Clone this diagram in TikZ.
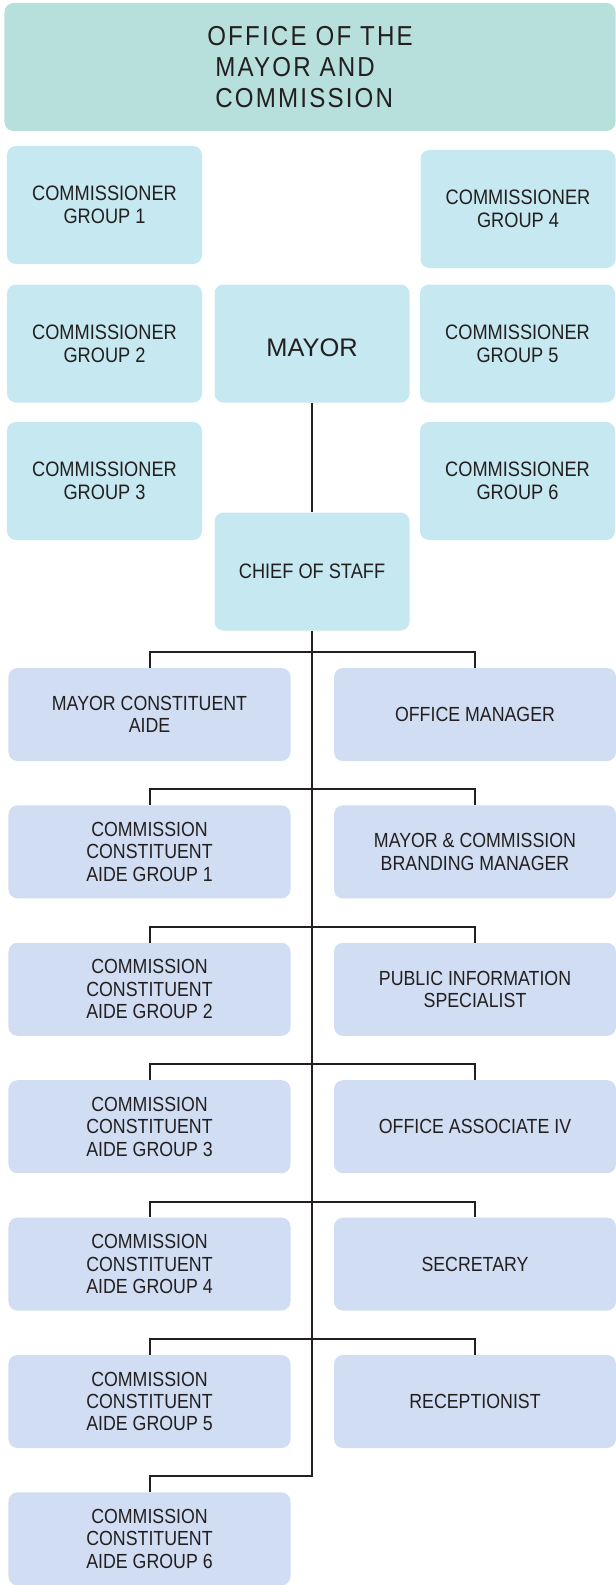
\documentclass[tikz,border=0pt]{standalone}
\usepackage{fontspec}
\setmainfont{Liberation Sans}
\newfontfamily\narrowfont[FakeStretch=0.87]{Liberation Sans}
\newfontfamily\spacedfont[FakeStretch=0.88, LetterSpace=8]{Liberation Sans}
\definecolor{ink}{HTML}{231F20}
\definecolor{titlefill}{HTML}{B7E0DC}
\definecolor{commfill}{HTML}{C6E8F0}
\definecolor{stafffill}{HTML}{D0DDF2}

\begin{document}
\begin{tikzpicture}[x = 1bp, y = -1bp]
	\tikzstyle{boxStyle} = [rectangle, rounded corners = 9bp, inner sep = 2bp, text = ink, align = center]
	\tikzstyle{titleStyle} = [boxStyle, fill = titlefill, minimum width = 611bp, minimum height = 128bp, align = left, font = \spacedfont\fontsize{27.5}{31}\selectfont]
	\tikzstyle{commStyle} = [boxStyle, fill = commfill, minimum width = 195bp, minimum height = 118bp, font = \narrowfont\fontsize{21}{23}\selectfont]
	\tikzstyle{mayorStyle} = [commStyle, text height = 26bp, font = \fontsize{25.5}{27}\selectfont]
	\tikzstyle{staffStyle} = [boxStyle, fill = stafffill, minimum width = 282bp, minimum height = 93bp, font = \narrowfont\fontsize{20.5}{22.5}\selectfont]
	\tikzstyle{lineStyle} = [line width = 2bp, draw = ink]
	\useasboundingbox (0,0) rectangle (616,1585);
	% top block
	\node[titleStyle] (office) at (310,67) {OFFICE OF THE\\\hspace*{8bp}MAYOR AND\\\hspace*{8bp}COMMISSION};
	\node[commStyle] (c1) at (104.5,205) {COMMISSIONER\\GROUP 1};
	\node[commStyle] (c2) at (104.5,343.5) {COMMISSIONER\\GROUP 2};
	\node[commStyle] (c3) at (104.5,481) {COMMISSIONER\\GROUP 3};
	\node[commStyle] (c4) at (518,209) {COMMISSIONER\\GROUP 4};
	\node[commStyle] (c5) at (517.5,343.5) {COMMISSIONER\\GROUP 5};
	\node[commStyle] (c6) at (517.5,481) {COMMISSIONER\\GROUP 6};
	\node[mayorStyle] (mayor) at (312,343.5) {MAYOR};
	\node[commStyle] (chief) at (312,571.5) {CHIEF OF STAFF};
	% staff, left column
	\node[staffStyle] (a0) at (149.5,714.5) {MAYOR CONSTITUENT\\AIDE};
	\node[staffStyle] (a1) at (149.5,851.9) {COMMISSION\\CONSTITUENT\\AIDE GROUP 1};
	\node[staffStyle] (a2) at (149.5,989.3) {COMMISSION\\CONSTITUENT\\AIDE GROUP 2};
	\node[staffStyle] (a3) at (149.5,1126.7) {COMMISSION\\CONSTITUENT\\AIDE GROUP 3};
	\node[staffStyle] (a4) at (149.5,1264.1) {COMMISSION\\CONSTITUENT\\AIDE GROUP 4};
	\node[staffStyle] (a5) at (149.5,1401.5) {COMMISSION\\CONSTITUENT\\AIDE GROUP 5};
	\node[staffStyle] (a6) at (149.5,1538.9) {COMMISSION\\CONSTITUENT\\AIDE GROUP 6};
	% staff, right column
	\node[staffStyle] (r0) at (475,714.5) {OFFICE MANAGER};
	\node[staffStyle] (r1) at (475,851.9) {MAYOR \& COMMISSION\\BRANDING MANAGER};
	\node[staffStyle] (r2) at (475,989.3) {PUBLIC INFORMATION\\SPECIALIST};
	\node[staffStyle] (r3) at (475,1126.7) {OFFICE ASSOCIATE IV};
	\node[staffStyle] (r4) at (475,1264.1) {SECRETARY};
	\node[staffStyle] (r5) at (475,1401.5) {RECEPTIONIST};
	% branch points on the spine
	\coordinate (b0) at (312,652);
	\coordinate (b1) at (312,789.4);
	\coordinate (b2) at (312,926.8);
	\coordinate (b3) at (312,1064.2);
	\coordinate (b4) at (312,1201.6);
	\coordinate (b5) at (312,1339);
	\coordinate (b6) at (312,1476.4);
	% connectors
	\draw[lineStyle] (mayor) -- (chief);
	\draw[lineStyle] (chief) -- (b6) -| (a6);
	\draw[lineStyle] (a0) |- (b0) -| (r0);
	\draw[lineStyle] (a1) |- (b1) -| (r1);
	\draw[lineStyle] (a2) |- (b2) -| (r2);
	\draw[lineStyle] (a3) |- (b3) -| (r3);
	\draw[lineStyle] (a4) |- (b4) -| (r4);
	\draw[lineStyle] (a5) |- (b5) -| (r5);
\end{tikzpicture}
\end{document}
